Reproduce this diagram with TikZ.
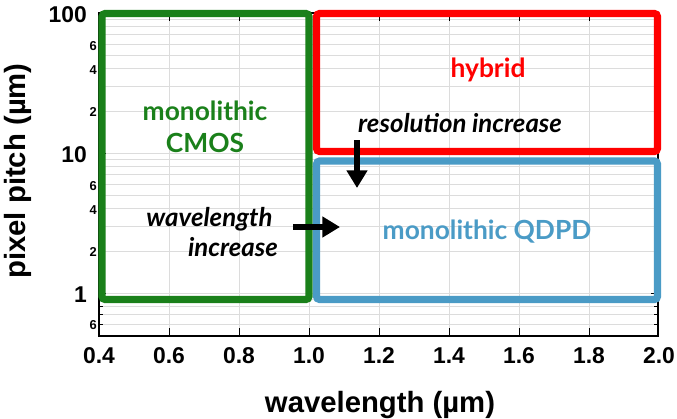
\documentclass[tikz,border=0pt]{standalone}
\usepackage{fontspec}
\setmainfont{Liberation Sans}
\newfontfamily\gillfont{Lato}
\usetikzlibrary{arrows.meta,positioning,calc}
\definecolor{PG}{HTML}{1A801A}
\definecolor{PR}{HTML}{FF0000}
\definecolor{PQ}{HTML}{4A9BC6}
\definecolor{GL}{HTML}{DCDCDC}
% data -> pixel
\newcommand{\xd}[1]{{99+350*(#1-0.4)}}
\newcommand{\yd}[1]{{293-140*log10(#1)}}

\begin{document}
\begin{tikzpicture}[x=0.03cm, y=-0.03cm,
    gridline/.style={draw=GL, line width=0.6pt},
    tickmark/.style={draw=black, line width=0.8pt},
    region/.style={line width=6pt, rounded corners=2.5pt},
    ticklbl/.style={font=\bfseries\fontsize{19.5}{21}\selectfont, inner sep=0pt},
    minorlbl/.style={font=\bfseries\fontsize{11}{12}\selectfont, inner sep=0pt, anchor=east},
    axislbl/.style={font=\bfseries\fontsize{25}{28}\selectfont, inner sep=0pt, anchor=base},
    gill/.style={font=\gillfont\bfseries\fontsize{22.5}{24}\selectfont, inner sep=0pt, anchor=base},
    gilli/.style={gill, font=\gillfont\bfseries\itshape\fontsize{22}{24}\selectfont},
    trend/.style={line width=4.5pt, -{Triangle[length=15pt, width=17pt]}}
  ]
    \useasboundingbox[fill=white] (0,0) rectangle (677,418);

    % grid
    \foreach \d in {0.6,0.8,...,1.8}
      \draw[gridline] (\xd{\d},13) -- (\xd{\d},336);
    \foreach \v in {0.6,0.7,0.8,0.9,1,2,3,4,5,6,7,8,9,10,20,30,40,50,60,70,80,90}
      \draw[gridline] (99,\yd{\v}) -- (658,\yd{\v});

    % frame and ticks
    \draw[line width=1pt] (99,13) rectangle (658,336);
    \foreach \d in {0.6,0.8,...,1.8} {
      \draw[tickmark] (\xd{\d},336) -- ++(0,-8);
      \draw[tickmark] (\xd{\d},13) -- ++(0,8);
    }
    \foreach \v in {0.6,0.7,0.8,0.9,2,3,4,5,6,7,8,9,20,30,40,50,60,70,80,90} {
      \draw[tickmark] (99,\yd{\v}) -- ++(4,0);
      \draw[tickmark] (658,\yd{\v}) -- ++(-4,0);
    }
    \foreach \v in {1,10} {
      \draw[tickmark] (99,\yd{\v}) -- ++(7,0);
      \draw[tickmark] (658,\yd{\v}) -- ++(-7,0);
    }

    % tick labels
    \foreach \d [count=\i] in {0.4,0.6,0.8,1.0,1.2,1.4,1.6,1.8,2.0}
      \node[ticklbl, anchor=base] (xl\i) at (\xd{\d},363) {\d};
    \node[ticklbl, anchor=east] (yl100) at (87,15) {100};
    \node[ticklbl, anchor=east] (yl10) at (87,155) {10};
    \node[ticklbl, anchor=east] (yl1) at (87,295) {1};
    \foreach \v/\t [count=\i] in {60/6,40/4,20/2,6/6,4/4,2/2,0.6/6}
      \node[minorlbl] (ym\i) at (97,{294.5-140*log10(\v)}) {\t};

    % axis titles
    \node[axislbl] (xlab) at (380,412) {wavelength (µm)};
    \node[axislbl, rotate=90] (ylab) at (25,171) {pixel pitch (µm)};

    % regions
    \draw[region, draw=PG] (102,13.5) rectangle (309,299.5);
    \draw[region, draw=PR] (316.5,13.5) rectangle (657.5,151.5);
    \draw[region, draw=PQ] (316.5,161) rectangle (657.5,299.5);

    \node[gill, text=PG] (mono) at (205,120) {monolithic};
    \node[gill, text=PG] (cmos) at (205,152) {CMOS};
    \node[gill, text=PR] (hyb) at (488,77) {hybrid};
    \node[gill, text=PQ] (qdpd) at (487,239) {monolithic QDPD};

    % trends
    \node[gilli] (res) at (460,132) {resolution increase};
    \node[gilli] (wav) at (209.5,226) {wavelength};
    \node[gilli] (inc) at (233,256) {increase};
    \coordinate (rs) at (357,140);
    \coordinate (re) at (357,188);
    \coordinate (ws) at (293,227);
    \coordinate (we) at (340,227);
    \draw[trend] (rs) -- (re);
    \draw[trend] (ws) -- (we);
  \end{tikzpicture}
\end{document}
